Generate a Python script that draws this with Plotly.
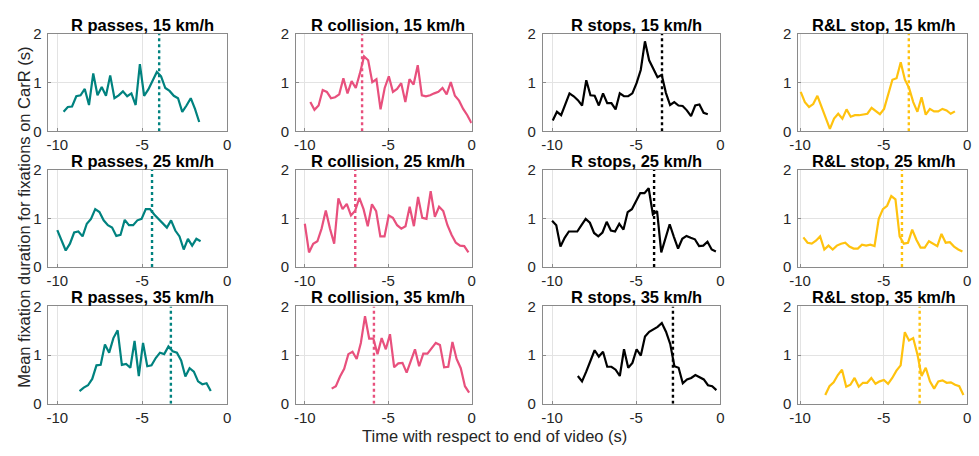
import numpy as np
import plotly.graph_objects as go

# ---------------- data ----------------
conditions = ["R passes", "R collision", "R stops", "R&L stop"]
speeds = ["15 km/h", "25 km/h", "35 km/h"]
colors = ["#00827F", "#E8507D", "#000000", "#FFC20E"]

x_ticks = [-10, -5, 0]
x_tick_labels = ["-10", "-5", "0"]
y_ticks = [0, 1, 2]
y_tick_labels = ["0", "1", "2"]

# Row 1: 15 km/h
passes_15 = [0.40,0.50,0.51,0.72,0.74,0.87,0.54,1.19,0.74,0.91,0.73,1.15,0.68,0.74,0.82,0.72,0.78,0.54,1.38,0.73,
             0.86,1.03,1.22,1.13,0.89,0.83,0.73,0.68,0.40,0.53,0.68,0.46,0.19]
collision_15 = [0.60,0.44,0.53,0.85,0.81,0.68,0.70,0.76,1.09,0.78,1.03,0.89,1.19,1.54,1.46,1.01,1.07,0.45,0.89,1.13,
                0.81,0.87,0.99,0.60,1.07,0.96,1.36,0.74,0.72,0.74,0.78,0.81,0.89,0.76,1.01,0.73,0.63,0.46,0.33,0.17]
stops_15 = [0.22,0.40,0.33,0.56,0.78,0.72,0.64,0.53,1.05,0.74,0.73,0.53,0.78,0.58,0.58,0.45,0.78,0.72,0.72,0.78,
            0.99,1.26,1.85,1.46,1.29,1.11,1.16,0.79,0.54,0.60,0.53,0.52,0.43,0.31,0.53,0.55,0.38,0.35]
rl_15 = [0.81,0.60,0.50,0.56,0.73,0.50,0.28,0.05,0.26,0.36,0.26,0.45,0.30,0.33,0.33,0.34,0.36,0.48,0.41,0.35,
         0.46,0.76,1.06,1.09,1.42,1.06,0.89,0.60,0.40,0.70,0.34,0.46,0.41,0.41,0.46,0.43,0.36,0.41]

# Row 2: 25 km/h
passes_25 = [0.76,0.53,0.34,0.48,0.71,0.73,0.63,0.89,0.99,1.19,1.13,0.96,0.86,0.81,0.64,0.66,0.97,0.86,0.86,0.96,
             0.99,1.19,1.19,1.08,0.99,0.89,0.81,0.96,0.75,0.63,0.36,0.58,0.44,0.58,0.53]
collision_25 = [0.89,0.30,0.48,0.53,0.79,1.16,0.79,0.48,1.41,1.19,1.30,1.06,1.16,1.42,1.19,0.84,1.29,1.15,0.63,0.63,
                1.06,1.01,0.86,0.79,0.84,1.24,0.84,1.44,1.01,0.99,1.56,1.03,1.24,1.15,0.86,0.66,0.50,0.44,0.43,0.30]
stops_25 = [0.95,0.86,0.42,0.60,0.73,0.73,0.73,0.86,0.99,0.91,0.70,0.63,0.71,0.93,0.75,0.73,0.89,0.77,1.13,1.19,
            1.36,1.52,1.52,1.62,1.08,1.15,0.30,0.60,0.88,0.62,0.38,0.58,0.64,0.60,0.57,0.43,0.44,0.52,0.36,0.32]
rl_25 = [0.61,0.50,0.48,0.54,0.63,0.36,0.44,0.36,0.44,0.48,0.50,0.42,0.38,0.38,0.46,0.44,0.46,0.43,0.99,1.19,
         1.26,1.46,1.39,0.63,0.48,0.50,0.77,0.56,0.40,0.40,0.53,0.48,0.43,0.68,0.50,0.51,0.42,0.36,0.32]

# Row 3: 35 km/h
passes_35 = [0.26,0.33,0.38,0.51,0.79,0.80,1.22,1.05,1.35,1.51,0.80,0.82,0.74,1.29,0.57,1.25,0.77,0.79,0.94,1.05,
             1.02,1.18,1.08,1.05,0.89,0.56,0.73,0.66,0.46,0.40,0.42,0.26]
collision_35 = [0.31,0.36,0.56,0.72,1.02,1.07,0.92,1.25,1.80,1.34,1.34,1.02,1.35,1.12,1.43,0.75,0.83,0.84,0.64,0.89,
                1.12,0.77,1.03,1.03,1.15,1.25,1.21,0.75,0.76,1.27,0.92,0.73,0.36,0.23]
stops_35 = [0.57,0.46,0.66,0.90,1.10,0.97,1.07,0.76,0.76,0.70,0.57,1.12,0.74,0.84,1.12,0.99,1.38,1.48,1.53,1.58,
            1.66,1.48,1.23,0.77,0.74,0.42,0.50,0.53,0.59,0.55,0.50,0.38,0.36,0.28]
rl_35 = [0.18,0.36,0.44,0.59,0.70,0.35,0.39,0.53,0.35,0.43,0.43,0.53,0.41,0.46,0.49,0.41,0.53,0.68,0.79,1.47,
         1.30,1.35,1.02,0.57,0.74,0.46,0.31,0.46,0.48,0.43,0.44,0.39,0.36,0.18]

series = [
    [passes_15, collision_15, stops_15, rl_15],
    [passes_25, collision_25, stops_25, rl_25],
    [passes_35, collision_35, stops_35, rl_35],
]
# first / last time sample of each series (s)
time_span = [
    [(-9.63, -1.64), (-9.67, -0.02), (-9.96, -0.75), (-9.96, -0.73)],
    [(-10.0, -1.56), (-10.0, -0.20), (-10.0, -0.27), (-9.80, -0.28)],
    [(-8.69, -0.96), (-8.39, -0.16), (-8.47, -0.24), (-8.49, -0.22)],
]
# dotted event markers (s)
event_time = [
    [-4.00, -6.57, -3.47, -3.49],
    [-4.42, -6.98, -3.94, -3.90],
    [-3.31, -5.86, -2.82, -2.84],
]

# ---------------- layout geometry ----------------
W, H = 979, 456
col_px = [(40, 221), (291, 469), (541, 721), (800, 971)]
row_px = [(26, 127), (167, 268), (309, 410)]
col_range = [[-10.52, 0], [-10.52, 0], [-10.55, 0], [-10.1, 0]]

FONT = "Arial, Liberation Sans, Helvetica, sans-serif"
TXT = "#262626"

fig = go.Figure()
layout = dict(
    width=W, height=H, margin=dict(l=0, r=0, t=0, b=0),
    paper_bgcolor="white", plot_bgcolor="white", showlegend=False,
    font=dict(family=FONT, size=15, color=TXT),
)
annotations = []

for r in range(3):
    for c in range(4):
        k = r * 4 + c + 1
        xa = "x" if k == 1 else f"x{k}"
        ya = "y" if k == 1 else f"y{k}"
        xkey = "xaxis" if k == 1 else f"xaxis{k}"
        ykey = "yaxis" if k == 1 else f"yaxis{k}"
        x0, x1 = col_px[c]
        y0, y1 = row_px[r]
        common = dict(
            showgrid=True, gridcolor="#e3e3e3", gridwidth=1,
            showline=True, linecolor="#8a8a8a", linewidth=1, mirror=True,
            zeroline=False, ticks="inside", ticklen=3, tickcolor="#8a8a8a",
            tickfont=dict(family=FONT, size=15, color=TXT),
            fixedrange=True,
        )
        layout[xkey] = dict(common, domain=[x0 / W, x1 / W], range=col_range[c],
                            tickvals=x_ticks, ticktext=x_tick_labels, anchor=ya,
                            ticklabelstandoff=0)
        layout[ykey] = dict(common, domain=[1 - y1 / H, 1 - y0 / H], range=[0, 2],
                            tickvals=y_ticks, ticktext=y_tick_labels, anchor=xa,
                            ticklabelstandoff=3)

        vals = series[r][c]
        t0, t1 = time_span[r][c]
        t = np.linspace(t0, t1, len(vals))
        fig.add_trace(go.Scatter(x=t, y=vals, mode="lines", xaxis=xa, yaxis=ya,
                                 line=dict(color=colors[c], width=2.2), hoverinfo="skip"))
        ev = event_time[r][c]
        fig.add_trace(go.Scatter(x=[ev, ev], y=[0, 2], mode="lines", xaxis=xa, yaxis=ya,
                                 line=dict(color=colors[c], width=2.4, dash="dot"), hoverinfo="skip"))

        annotations.append(dict(
            text=f"<b>{conditions[c]}, {speeds[r]}</b>", x=-5, xref=xa, y=1, yref=f"{ya} domain",
            xanchor="center", yanchor="bottom", yshift=-2, showarrow=False,
            font=dict(family=FONT, size=16.5, color="#000000"),
        ))

annotations.append(dict(
    text="Time with respect to end of video (s)", x=492 / W, y=1 - 444 / H, xref="paper", yref="paper",
    xanchor="center", yanchor="middle", showarrow=False, font=dict(family=FONT, size=16.5, color=TXT),
))
annotations.append(dict(
    text="Mean fixation duration for fixations on CarR (s)", x=15 / W, y=1 - 216 / H, xref="paper", yref="paper",
    xanchor="center", yanchor="middle", textangle=-90, showarrow=False,
    font=dict(family=FONT, size=16.5, color=TXT),
))
layout["annotations"] = annotations
fig.update_layout(**layout)
fig.write_html(
    "out.html",
    config={"displayModeBar": False, "staticPlot": True},
    post_script="document.body.style.margin='0px';document.body.style.overflow='hidden';",
)
